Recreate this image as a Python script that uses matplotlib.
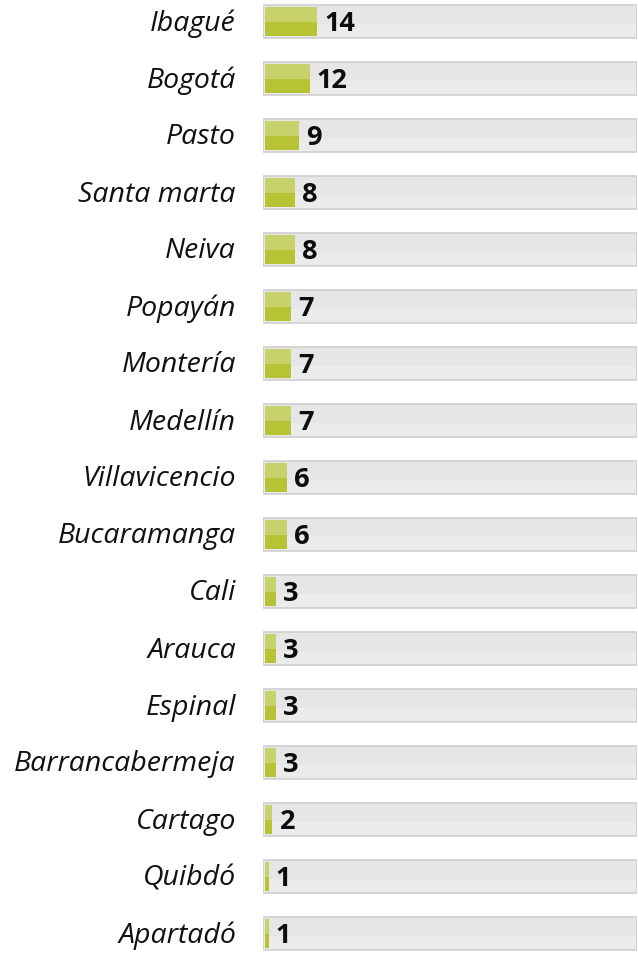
import matplotlib
matplotlib.use("Agg")
import matplotlib.pyplot as plt

cities = ["Ibagué", "Bogotá", "Pasto", "Santa marta", "Neiva", "Popayán", "Montería",
          "Medellín", "Villavicencio", "Bucaramanga", "Cali", "Arauca", "Espinal",
          "Barrancabermeja", "Cartago", "Quibdó", "Apartadó"]
values = [14, 12, 9, 8, 8, 7, 7, 7, 6, 6, 3, 3, 3, 3, 2, 1, 1]
axis_max = 100

W, H = 638, 957
fig = plt.figure(figsize=(W / 100, H / 100), dpi=100)
left_px, right_px = 263, 637
ax = fig.add_axes([left_px / W, 0, (right_px - left_px) / W, 1])
ax.set_xlim(0, axis_max)
row_h = 57.0
first = 21.5
ax.set_ylim((H - first) / row_h, -first / row_h)
ax.axis("off")

bh = 33 / row_h
n = len(cities)
ys = list(range(n))
# background track
ax.barh(ys, [axis_max] * n, height=bh, color="#e7e6e6", edgecolor="#d2d2d2", linewidth=1.3, zorder=1)
ax.barh([y + bh * 0.27 for y in ys], [axis_max * 0.996] * n, height=bh * 0.38, left=axis_max * 0.002,
        color="#ebebeb", linewidth=0, zorder=1.5)
# green bars
gh = bh * 0.88
ax.barh(ys, values, height=gh, left=0.5, color="#b6c335", linewidth=0, zorder=2)
ax.barh([y - gh * 0.25 for y in ys], values, height=gh * 0.5, left=0.5, color="#c7d26d", linewidth=0, zorder=3)

for y, v, c in zip(ys, values, cities):
    ax.text(v + 2.4, y + 0.04, str(v), ha="left", va="center", fontsize=19.5,
            fontweight="bold", family=["Open Sans", "DejaVu Sans"], color="#0d0d0d", zorder=4)
    fig.text(236 / W, 1 - (first + row_h * y + 2) / H, c, ha="right", va="center", fontsize=20.5,
             style="italic", family=["Open Sans", "DejaVu Sans"], color="#111111")

fig.savefig("out.png", dpi=100)
